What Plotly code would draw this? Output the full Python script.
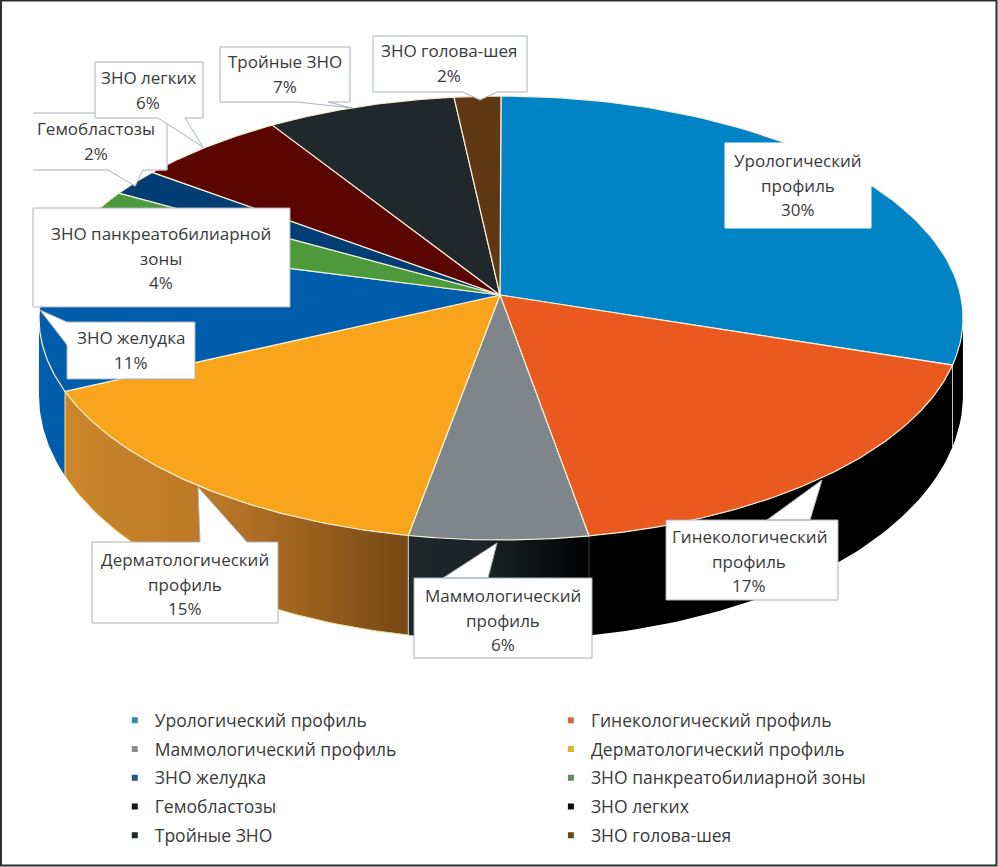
import numpy as np
import plotly.graph_objects as go

# ---------- data ----------
CATEGORIES = ["Урологический профиль", "Гинекологический профиль", "Маммологический профиль",
              "Дерматологический профиль", "ЗНО желудка", "ЗНО панкреатобилиарной зоны",
              "Гемобластозы", "ЗНО легких", "Тройные ЗНО", "ЗНО голова-шея"]
VALUES = [30, 17.25, 5.65, 15.2, 11, 4, 2, 5.8, 7.3, 1.8]
TOP_COLORS = ["#0084C6", "#EA5A20", "#7F868B", "#F9A51C", "#005DAC",
              "#4C9A3C", "#023D73", "#5A0500", "#21282B", "#603813"]
LEGEND_COLORS = ["#2A8FB0", "#C9703A", "#8A8F93", "#D9B030", "#1F5C80",
                 "#5F8F60", "#101820", "#140808", "#20262A", "#6B4A18"]
WRAPPED_NAMES = [["Урологический", "профиль"], ["Гинекологический", "профиль"], ["Маммологический", "профиль"],
                 ["Дерматологический", "профиль"], ["ЗНО желудка"], ["ЗНО панкреатобилиарной", "зоны"],
                 ["Гемобластозы"], ["ЗНО легких"], ["Тройные ЗНО"], ["ЗНО голова-шея"]]

# ---------- projection of the tilted pie (page pixels on the axes) ----------
CX, TOP_CY, TOP_RY, RX = 501, 318, 222, 462
BOT_CY, BOT_RY = 395, 245
APEX = (500, 295)
PERSP = 0.052


def projected(theta):
    z = np.sin(theta) + 1j * np.cos(theta)
    a = 1j * PERSP
    return (z + a) / (1 + np.conj(a) * z)


def top_rim(theta):
    w = projected(theta)
    return CX + RX * w.real, TOP_CY - TOP_RY * w.imag


def bottom_rim(theta):
    w = projected(theta)
    return CX + RX * w.real, BOT_CY - BOT_RY * w.imag


edges = np.concatenate([[0], np.cumsum(VALUES)]) / sum(VALUES) * 2 * np.pi

fig = go.Figure()

# side walls (only the slices in front)
WALLS = {0: dict(fillcolor="#000000"),
         1: dict(fillcolor="#000000"),
         2: dict(fillgradient=dict(type="horizontal", start=408, stop=592,
                                   colorscale=[[0, "#1E282C"], [0.4, "#1A2326"], [1, "#000000"]])),
         3: dict(fillgradient=dict(type="horizontal", start=65, stop=408,
                                   colorscale=[[0, "#CC872B"], [0.45, "#BA7726"], [1, "#764715"]])),
         4: dict(fillcolor="#005DAC")}
for i, style in WALLS.items():
    th = np.linspace(edges[i], edges[i + 1], 60)
    w = projected(th)
    th = th[(w.imag <= 0.01)]
    xt, yt = top_rim(th)
    xb, yb = bottom_rim(th)
    fig.add_trace(go.Scatter(x=np.r_[xt, xb[::-1], xt[0]], y=np.r_[yt, yb[::-1], yt[0]],
                             mode="lines", fill="toself", line=dict(width=0),
                             hoverinfo="skip", showlegend=False, **style))
# wall separators
for e, col in zip(edges[1:5], ["#C8C8C8", "#404040", "#D8D8D8", "#F6E3A8"]):
    xt, yt = top_rim(np.array([e]))
    xb, yb = bottom_rim(np.array([e]))
    fig.add_trace(go.Scatter(x=[xt[0], xb[0]], y=[yt[0], yb[0]], mode="lines",
                             line=dict(color=col, width=1), hoverinfo="skip", showlegend=False))
# derm wall lower edge highlight
th = np.linspace(edges[3], edges[4], 60)
xb, yb = bottom_rim(th)
fig.add_trace(go.Scatter(x=xb, y=yb, mode="lines", line=dict(color="#F6D98A", width=1),
                         hoverinfo="skip", showlegend=False))

# top slices
for i, col in enumerate(TOP_COLORS):
    th = np.linspace(edges[i], edges[i + 1], 80)
    xr, yr = top_rim(th)
    fig.add_trace(go.Scatter(x=np.r_[APEX[0], xr, APEX[0]], y=np.r_[APEX[1], yr, APEX[1]],
                             mode="lines", fill="toself", fillcolor=col,
                             line=dict(color="#F8EFD6", width=1.2),
                             hoverinfo="skip", showlegend=False))

# legend entries
for i, (name, col) in enumerate(zip(CATEGORIES, LEGEND_COLORS)):
    fig.add_trace(go.Scatter(x=[None], y=[None], mode="markers", name=name,
                             legend="legend" if i % 2 == 0 else "legend2",
                             legendgroup=name,
                             marker=dict(symbol="square", size=6, color=col)))

# ---------- callouts ----------
# box (x0, y0, x1, y1), wedge points, text centre
CALLOUTS = [
    ((725, 143, 871, 228), None, (798, 185)),
    ((666, 520, 838, 600), [(767, 520), (822, 480), (810, 520)], (749, 561)),
    ((414, 578, 592, 658), [(443, 578), (497, 543), (488, 578)], (503, 620)),
    ((92, 542, 278, 623), [(247, 542), (198, 487), (200, 542)], (185, 584)),
    ((67, 322, 195, 379), [(67, 345), (40, 310), (67, 322)], (131, 350)),
    ((33, 208, 290, 307), None, (161, 258)),
    ((33, 113, 167, 170), [(143, 170), (135, 186), (108, 170)], (96, 141)),
    ((95, 62, 203, 118), [(185, 118), (203, 147), (158, 118)], (148, 90)),
    ((220, 47, 350, 102), [(328, 102), (352, 108), (297, 102)], (285, 74)),
    ((373, 36, 527, 92), [(497, 92), (480, 100), (463, 92)], (449, 63)),
]
BORDER = "#A9B2BA"
LINE_GAP = 24.5
for j, (lines, val, (box, wedge, tc)) in enumerate(zip(WRAPPED_NAMES, VALUES, CALLOUTS)):
    x0, y0, x1, y1 = box
    pts = [(x0, y0), (x1, y0), (x1, y1), (x0, y1)]
    if wedge:
        if wedge[0][1] == y0 and wedge[2][1] == y0:    # top side
            pts = [(x0, y0)] + wedge[::-1] + [(x1, y0), (x1, y1), (x0, y1)]
        elif wedge[0][1] == y1 and wedge[2][1] == y1:  # bottom side
            pts = [(x0, y0), (x1, y0), (x1, y1)] + wedge + [(x0, y1)]
        else:                                          # left side
            pts = [(x0, y0), (x1, y0), (x1, y1), (x0, y1)] + wedge
    body = "M" + " L".join(f"{px},{py}" for px, py in pts)
    if j == 6:   # Гемобластозы: no left border in the reference
        fig.add_shape(type="path", path=body + " Z", fillcolor="white", line=dict(color="white", width=1), layer="above")
        fig.add_shape(type="path", path=body, line=dict(color=BORDER, width=1), layer="above")
    else:
        line_col = "#FFFFFF" if j == 0 else BORDER
        fig.add_shape(type="path", path=body + " Z", fillcolor="white", line=dict(color=line_col, width=1), layer="above")
    text_lines = lines + [f"{val:.0f}%"]
    for k, txt in enumerate(text_lines):
        y = tc[1] + (k - (len(text_lines) - 1) / 2) * LINE_GAP
        fig.add_annotation(x=tc[0], y=y, text=txt, showarrow=False,
                           font=dict(family="Open Sans", size=17, color="#3A3A3A"), align="center")

# outer frame
fig.add_shape(type="rect", x0=1, y0=0.5, x1=996.5, y1=865.5, line=dict(color="#2E2E2E", width=2), layer="above")

fig.update_xaxes(range=[0, 998], visible=False, fixedrange=True)
fig.update_yaxes(range=[867, 0], visible=False, fixedrange=True)
LEG = dict(orientation="v", bgcolor="rgba(0,0,0,0)", tracegroupgap=3,
           font=dict(family="Open Sans", size=17.5, color="#3A3A3A"), xanchor="left", yanchor="top", itemclick=False)
fig.update_layout(width=998, height=867, margin=dict(l=0, r=0, t=0, b=0),
                  paper_bgcolor="white", plot_bgcolor="white", showlegend=True,
                  legend=dict(x=0.115, y=0.19, **LEG), legend2=dict(x=0.552, y=0.19, **LEG))

fig.write_html("out.html", config=dict(displayModeBar=False),
               post_script="document.body.style.margin='0';document.body.style.overflow='hidden';")
